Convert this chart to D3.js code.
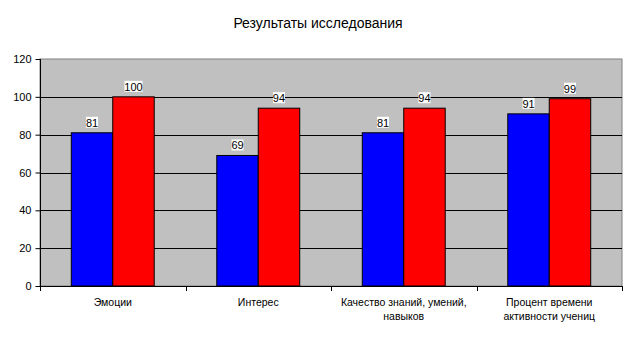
<!DOCTYPE html>
<html>
<head>
<meta charset="utf-8" />
<title></title>
<style>
html, body {
    padding: 0px;
    margin: 0px;
    background: #fff;
}
svg text {
    font-family: "Liberation Sans", Arial, sans-serif;
}
</style>
</head>
<body>
<div id="chart"></div>
<script src="https://cdnjs.cloudflare.com/ajax/libs/d3/7.8.5/d3.min.js"></script>
<script>
!(function(){
    "use strict"

    var categories = [
        ["Эмоции"],
        ["Интерес"],
        ["Качество знаний, умений,", "навыков"],
        ["Процент времени", "активности учениц"]
    ];
    var blueValues = [81, 69, 81, 91];
    var redValues = [100, 94, 94, 99];
    var yTicks = [0, 20, 40, 60, 80, 100, 120];

    var W = 636, H = 337;
    var left = 40, right = 622, top = 59, bottom = 286;

    var svg = d3.select("#chart").append("svg")
        .attr("width", W)
        .attr("height", H)

    svg.append("text")
        .attr("x", 318)
        .attr("y", 28)
        .attr("text-anchor", "middle")
        .attr("font-size", 14)
        .attr("fill", "#000")
        .text("Результаты исследования")

    var x = d3.scaleBand()
        .domain(d3.range(categories.length))
        .range([left, right])
        .paddingInner(0)
        .paddingOuter(0);

    var y = d3.scaleLinear()
        .domain([0, 120])
        .range([bottom, top]);

    var bw = x.bandwidth() * 0.285;

    // plot background
    svg.append("rect")
        .attr("x", left)
        .attr("y", top)
        .attr("width", right - left)
        .attr("height", bottom - top)
        .attr("fill", "#c0c0c0")
        .attr("stroke", "#808080")

    // gridlines
    svg.append("g").selectAll("line")
        .data(yTicks.filter(function(d){ return d > 0 && d < 120; }))
        .enter().append("line")
        .attr("x1", left).attr("x2", right)
        .attr("y1", function(d){ return Math.round(y(d)) + 0.5; })
        .attr("y2", function(d){ return Math.round(y(d)) + 0.5; })
        .attr("stroke", "#000")

    var series = [
        { values: blueValues, color: "#0000ff", off: -1 },
        { values: redValues, color: "#ff0000", off: 0 }
    ];

    series.forEach(function(s){
        svg.append("g").selectAll("rect")
            .data(s.values)
            .enter().append("rect")
            .attr("x", function(d, i){ return x(i) + x.bandwidth() / 2 + s.off * bw; })
            .attr("y", function(d){ return y(d); })
            .attr("width", bw)
            .attr("height", function(d){ return bottom - y(d); })
            .attr("fill", s.color)
            .attr("stroke", "#000")
    });

    // value labels
    series.forEach(function(s){
        var g = svg.append("g").selectAll("g")
            .data(s.values)
            .enter().append("g")
            .attr("transform", function(d, i){
                return "translate(" + (x(i) + x.bandwidth() / 2 + s.off * bw + bw / 2) + "," + (y(d) - 5) + ")";
            })
        g.append("rect")
            .attr("x", function(d){ return d >= 100 ? -9 : -6; })
            .attr("y", -11)
            .attr("width", function(d){ return d >= 100 ? 18 : 12; })
            .attr("height", 11)
            .attr("fill", "#fff")
        g.append("text")
            .attr("text-anchor", "middle")
            .attr("font-size", 11)
            .attr("y", -1)
            .attr("fill", "#000")
            .text(function(d){ return d; })
    });

    // y axis
    var yAxis = svg.append("g")
        .attr("transform", "translate(" + (left + 0.5) + ",0)")
        .call(d3.axisLeft(y).tickValues(yTicks).tickSize(5).tickPadding(4))
    yAxis.selectAll("text").attr("font-size", 11).attr("fill", "#000").attr("font-family", null)
    yAxis.selectAll("line, path").attr("stroke", "#000")
    yAxis.select(".domain").remove()
    svg.append("line")
        .attr("x1", left + 0.5).attr("x2", left + 0.5)
        .attr("y1", top).attr("y2", bottom)
        .attr("stroke", "#000")

    // x axis
    svg.append("line")
        .attr("x1", left).attr("x2", right + 1)
        .attr("y1", bottom + 0.5).attr("y2", bottom + 0.5)
        .attr("stroke", "#000")
    svg.append("g").selectAll("line")
        .data(d3.range(categories.length + 1))
        .enter().append("line")
        .attr("x1", function(i){ return Math.round(left + i * x.step()) + 0.5; })
        .attr("x2", function(i){ return Math.round(left + i * x.step()) + 0.5; })
        .attr("y1", bottom).attr("y2", bottom + 5)
        .attr("stroke", "#000")

    svg.append("g").selectAll("text")
        .data(categories)
        .enter().append("text")
        .attr("text-anchor", "middle")
        .attr("font-size", 10.5)
        .attr("fill", "#000")
        .attr("transform", function(d, i){ return "translate(" + (x(i) + x.bandwidth() / 2) + ",306)"; })
        .selectAll("tspan")
        .data(function(d){ return d; })
        .enter().append("tspan")
        .attr("x", 0)
        .attr("dy", function(d, j){ return j ? 14 : 0; })
        .text(function(d){ return d; })

}());
</script>
</body>
</html>
